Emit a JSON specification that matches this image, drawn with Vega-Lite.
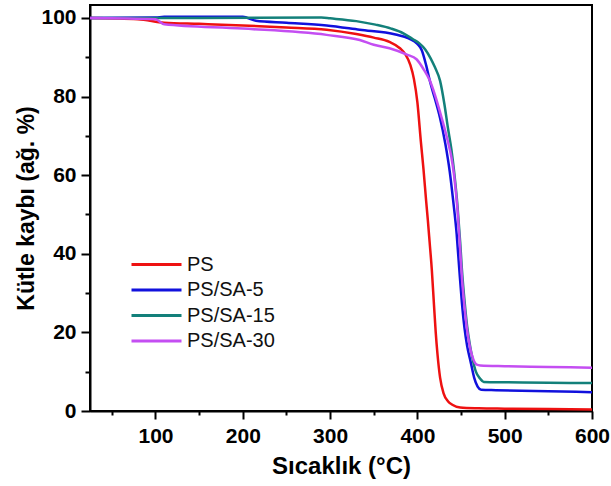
{
  "$schema": "https://vega.github.io/schema/vega-lite/v6.json",
  "width": 502,
  "height": 406,
  "autosize": "none",
  "padding": {"left": 90, "top": 5, "right": 19, "bottom": 75},
  "background": "white",
  "config": {
    "view": {"stroke": "black", "strokeWidth": 2},
    "font": "Liberation Sans"
  },
  "datasets": {
    "tga": [
      {"sample": "PS", "T": 25, "mass": 100},
      {"sample": "PS", "T": 80, "mass": 99.7},
      {"sample": "PS", "T": 110, "mass": 98.8},
      {"sample": "PS", "T": 150, "mass": 98.5},
      {"sample": "PS", "T": 200, "mass": 98.1},
      {"sample": "PS", "T": 250, "mass": 97.6},
      {"sample": "PS", "T": 296, "mass": 97.0},
      {"sample": "PS", "T": 330, "mass": 95.9},
      {"sample": "PS", "T": 350, "mass": 95.0},
      {"sample": "PS", "T": 368, "mass": 93.9},
      {"sample": "PS", "T": 380, "mass": 92.3},
      {"sample": "PS", "T": 386, "mass": 90.8},
      {"sample": "PS", "T": 392, "mass": 88.0},
      {"sample": "PS", "T": 396, "mass": 84.5},
      {"sample": "PS", "T": 400, "mass": 78.5},
      {"sample": "PS", "T": 404, "mass": 68.5},
      {"sample": "PS", "T": 407, "mass": 61.5},
      {"sample": "PS", "T": 410, "mass": 53.5},
      {"sample": "PS", "T": 412, "mass": 48.5},
      {"sample": "PS", "T": 414, "mass": 43},
      {"sample": "PS", "T": 416.5, "mass": 36},
      {"sample": "PS", "T": 419, "mass": 27},
      {"sample": "PS", "T": 421, "mass": 20},
      {"sample": "PS", "T": 423, "mass": 14.5},
      {"sample": "PS", "T": 426, "mass": 8.5},
      {"sample": "PS", "T": 430, "mass": 4.5},
      {"sample": "PS", "T": 435, "mass": 2.5},
      {"sample": "PS", "T": 440, "mass": 1.6},
      {"sample": "PS", "T": 449, "mass": 0.9},
      {"sample": "PS", "T": 470, "mass": 0.7},
      {"sample": "PS", "T": 500, "mass": 0.6},
      {"sample": "PS", "T": 550, "mass": 0.5},
      {"sample": "PS", "T": 600, "mass": 0.4},

      {"sample": "PS/SA-5", "T": 25, "mass": 100},
      {"sample": "PS/SA-5", "T": 100, "mass": 100.1},
      {"sample": "PS/SA-5", "T": 110, "mass": 100.3},
      {"sample": "PS/SA-5", "T": 200, "mass": 100.3},
      {"sample": "PS/SA-5", "T": 215, "mass": 99.3},
      {"sample": "PS/SA-5", "T": 250, "mass": 98.8},
      {"sample": "PS/SA-5", "T": 296, "mass": 98.1},
      {"sample": "PS/SA-5", "T": 334, "mass": 97.0},
      {"sample": "PS/SA-5", "T": 375, "mass": 95.8},
      {"sample": "PS/SA-5", "T": 390, "mass": 94.8},
      {"sample": "PS/SA-5", "T": 400, "mass": 93.4},
      {"sample": "PS/SA-5", "T": 405, "mass": 91.8},
      {"sample": "PS/SA-5", "T": 410, "mass": 88},
      {"sample": "PS/SA-5", "T": 414, "mass": 84.2},
      {"sample": "PS/SA-5", "T": 420, "mass": 79.5},
      {"sample": "PS/SA-5", "T": 426, "mass": 74.5},
      {"sample": "PS/SA-5", "T": 432, "mass": 68},
      {"sample": "PS/SA-5", "T": 437, "mass": 61},
      {"sample": "PS/SA-5", "T": 441, "mass": 53.5},
      {"sample": "PS/SA-5", "T": 445, "mass": 45},
      {"sample": "PS/SA-5", "T": 448, "mass": 36},
      {"sample": "PS/SA-5", "T": 451, "mass": 27.5},
      {"sample": "PS/SA-5", "T": 454, "mass": 21},
      {"sample": "PS/SA-5", "T": 457, "mass": 16.5},
      {"sample": "PS/SA-5", "T": 461, "mass": 12.5},
      {"sample": "PS/SA-5", "T": 465, "mass": 8.5},
      {"sample": "PS/SA-5", "T": 469, "mass": 6.2},
      {"sample": "PS/SA-5", "T": 473, "mass": 5.4},
      {"sample": "PS/SA-5", "T": 490, "mass": 5.3},
      {"sample": "PS/SA-5", "T": 550, "mass": 5.0},
      {"sample": "PS/SA-5", "T": 600, "mass": 4.8},

      {"sample": "PS/SA-15", "T": 25, "mass": 100},
      {"sample": "PS/SA-15", "T": 150, "mass": 100},
      {"sample": "PS/SA-15", "T": 290, "mass": 100.1},
      {"sample": "PS/SA-15", "T": 300, "mass": 99.9},
      {"sample": "PS/SA-15", "T": 330, "mass": 99.2},
      {"sample": "PS/SA-15", "T": 352, "mass": 98.3},
      {"sample": "PS/SA-15", "T": 370, "mass": 97.3},
      {"sample": "PS/SA-15", "T": 384, "mass": 96.1},
      {"sample": "PS/SA-15", "T": 395, "mass": 94.6},
      {"sample": "PS/SA-15", "T": 402, "mass": 93.6},
      {"sample": "PS/SA-15", "T": 409, "mass": 92.0},
      {"sample": "PS/SA-15", "T": 415, "mass": 89.8},
      {"sample": "PS/SA-15", "T": 420, "mass": 87.5},
      {"sample": "PS/SA-15", "T": 426, "mass": 84},
      {"sample": "PS/SA-15", "T": 431, "mass": 78},
      {"sample": "PS/SA-15", "T": 435, "mass": 72},
      {"sample": "PS/SA-15", "T": 439, "mass": 66.5},
      {"sample": "PS/SA-15", "T": 442, "mass": 61},
      {"sample": "PS/SA-15", "T": 446, "mass": 52},
      {"sample": "PS/SA-15", "T": 449, "mass": 43},
      {"sample": "PS/SA-15", "T": 451, "mass": 36},
      {"sample": "PS/SA-15", "T": 454, "mass": 28},
      {"sample": "PS/SA-15", "T": 457, "mass": 21.5},
      {"sample": "PS/SA-15", "T": 460, "mass": 17},
      {"sample": "PS/SA-15", "T": 463, "mass": 13.5},
      {"sample": "PS/SA-15", "T": 467, "mass": 10},
      {"sample": "PS/SA-15", "T": 472, "mass": 8.2},
      {"sample": "PS/SA-15", "T": 476, "mass": 7.4},
      {"sample": "PS/SA-15", "T": 500, "mass": 7.3},
      {"sample": "PS/SA-15", "T": 550, "mass": 7.2},
      {"sample": "PS/SA-15", "T": 600, "mass": 7.1},

      {"sample": "PS/SA-30", "T": 25, "mass": 100},
      {"sample": "PS/SA-30", "T": 100, "mass": 99.7},
      {"sample": "PS/SA-30", "T": 110, "mass": 98.4},
      {"sample": "PS/SA-30", "T": 200, "mass": 97.3},
      {"sample": "PS/SA-30", "T": 296, "mass": 95.7},
      {"sample": "PS/SA-30", "T": 334, "mass": 94.4},
      {"sample": "PS/SA-30", "T": 350, "mass": 93.2},
      {"sample": "PS/SA-30", "T": 368, "mass": 92.3},
      {"sample": "PS/SA-30", "T": 388, "mass": 90.7},
      {"sample": "PS/SA-30", "T": 399, "mass": 89.5},
      {"sample": "PS/SA-30", "T": 407, "mass": 87},
      {"sample": "PS/SA-30", "T": 414, "mass": 84.2},
      {"sample": "PS/SA-30", "T": 420, "mass": 80.5},
      {"sample": "PS/SA-30", "T": 426, "mass": 76},
      {"sample": "PS/SA-30", "T": 431, "mass": 72},
      {"sample": "PS/SA-30", "T": 435, "mass": 68.5},
      {"sample": "PS/SA-30", "T": 439, "mass": 64.5},
      {"sample": "PS/SA-30", "T": 442, "mass": 60},
      {"sample": "PS/SA-30", "T": 446, "mass": 51},
      {"sample": "PS/SA-30", "T": 449, "mass": 41},
      {"sample": "PS/SA-30", "T": 451, "mass": 34},
      {"sample": "PS/SA-30", "T": 454, "mass": 26.5},
      {"sample": "PS/SA-30", "T": 457, "mass": 20.5},
      {"sample": "PS/SA-30", "T": 460, "mass": 16.5},
      {"sample": "PS/SA-30", "T": 464, "mass": 13.2},
      {"sample": "PS/SA-30", "T": 468, "mass": 11.8},
      {"sample": "PS/SA-30", "T": 472, "mass": 11.6},
      {"sample": "PS/SA-30", "T": 500, "mass": 11.4},
      {"sample": "PS/SA-30", "T": 550, "mass": 11.2},
      {"sample": "PS/SA-30", "T": 600, "mass": 11.0}
    ]
  },
  "data": {"name": "tga"},
  "mark": {"type": "line", "strokeWidth": 2.5, "interpolate": "monotone"},
  "encoding": {
    "x": {
      "field": "T",
      "type": "quantitative",
      "scale": {"domain": [25, 600], "nice": false, "zero": false},
      "axis": {
        "title": "Sıcaklık (°C)",
        "titleFont": "Liberation Sans",
        "titleFontSize": 24,
        "titleFontWeight": "bold",
        "titleColor": "black",
        "titlePadding": 8,
        "values": [50, 100, 150, 200, 250, 300, 350, 400, 450, 500, 550, 600],
        "labelExpr": "datum.value % 100 === 0 ? datum.label : ''",
        "format": "d",
        "labelFont": "Liberation Sans",
        "labelFontSize": 21,
        "labelFontWeight": "bold",
        "labelColor": "black",
        "labelPadding": 6,
        "labelFlush": false,
        "labelOverlap": false,
        "tickColor": "black",
        "tickWidth": 2,
        "tickSize": {"condition": {"test": "datum.value % 100 === 0", "value": 8}, "value": 4},
        "domainColor": "black",
        "domainWidth": 2,
        "grid": false
      }
    },
    "y": {
      "field": "mass",
      "type": "quantitative",
      "scale": {"domain": [0, 103.3], "nice": false},
      "axis": {
        "title": "Kütle kaybı (ağ. %)",
        "titleFont": "Liberation Sans",
        "titleFontSize": 23,
        "titleFontWeight": "bold",
        "titleColor": "black",
        "titlePadding": 2,
        "values": [0, 10, 20, 30, 40, 50, 60, 70, 80, 90, 100],
        "labelExpr": "datum.value % 20 === 0 ? datum.label : ''",
        "format": "d",
        "labelFont": "Liberation Sans",
        "labelFontSize": 21,
        "labelFontWeight": "bold",
        "labelColor": "black",
        "labelPadding": 5,
        "labelOverlap": false,
        "tickColor": "black",
        "tickWidth": 2,
        "tickSize": {"condition": {"test": "datum.value % 20 === 0", "value": 9}, "value": 5},
        "domainColor": "black",
        "domainWidth": 2,
        "grid": false
      }
    },
    "color": {
      "field": "sample",
      "type": "nominal",
      "scale": {
        "domain": ["PS", "PS/SA-5", "PS/SA-15", "PS/SA-30"],
        "range": ["#ee1111", "#1111dd", "#13807a", "#c44ef2"]
      },
      "legend": {
        "title": null,
        "orient": "none",
        "legendX": 55,
        "legendY": 248,
        "symbolType": "M-2.5,0H2.5",
        "symbolSize": 400,
        "symbolStrokeWidth": 3,
        "symbolFillColor": "transparent",
        "labelFont": "Liberation Sans",
        "labelFontSize": 20,
        "labelColor": "#111111",
        "labelOffset": 19,
        "rowPadding": 3.5
      }
    }
  }
}
